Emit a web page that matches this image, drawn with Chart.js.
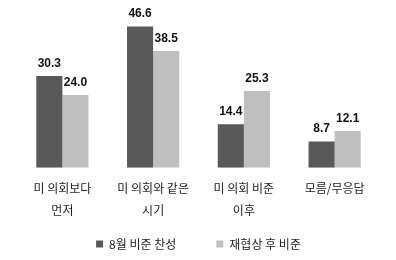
<!DOCTYPE html>
<html>
<head>
<meta charset="utf-8">
<script src="https://cdn.jsdelivr.net/npm/chart.js@4"></script>
<style>
  html, body { margin: 0; padding: 0; background: #fff; }
  #wrap { width: 396px; height: 260px; }
</style>
</head>
<body>
<div id="wrap"><canvas id="chart" width="396" height="260"></canvas></div>
<script>
const categories = [
    ['미 의회보다', '먼저'],
    ['미 의회와 같은', '시기'],
    ['미 의회 비준', '이후'],
    ['모름/무응답']
];
const seriesNames = ['8월 비준 찬성', '재협상 후 비준'];
const augustValues = [30.3, 46.6, 14.4, 8.7];
const afterValues = [24.0, 38.5, 25.3, 12.1];
const colors = ['#595959', '#bfbfbf'];

// draws the value above each bar
const valueLabels = {
    id: 'valueLabels',
    afterDatasetsDraw(chart) {
        const ctx = chart.ctx;
        ctx.save();
        ctx.font = 'bold 12px "Liberation Sans", Arial, sans-serif';
        ctx.fillStyle = '#111';
        ctx.textAlign = 'center';
        ctx.textBaseline = 'alphabetic';
        chart.data.datasets.forEach((ds, i) => {
            chart.getDatasetMeta(i).data.forEach((bar, j) => {
                ctx.fillText(ds.data[j].toFixed(1), bar.x, bar.y - 9);
            });
        });
        ctx.restore();
    }
};

new Chart(document.getElementById('chart').getContext('2d'), {
    type: 'bar',
    data: {
        labels: categories,
        datasets: [
            { label: seriesNames[0], data: augustValues, backgroundColor: colors[0] },
            { label: seriesNames[1], data: afterValues, backgroundColor: colors[1] }
        ]
    },
    options: {
        responsive: false,
        animation: false,
        layout: { padding: { left: 17, right: 16, top: 1, bottom: 4 } },
        datasets: {
            bar: { barPercentage: 1, categoryPercentage: 0.575 }
        },
        scales: {
            x: {
                grid: { display: false },
                border: { display: false },
                // let the plot reach closer to the legend, labels may overflow the axis box
                afterFit: scale => {
                    scale.height -= 25;
                    scale._computeLabelArea = () => undefined;
                },
                ticks: {
                    color: '#222',
                    padding: 2,
                    maxRotation: 0,
                    autoSkip: false,
                    font: { family: '"Noto Sans CJK KR", sans-serif', size: 12, lineHeight: 1.8 }
                }
            },
            y: {
                display: false,
                min: 0,
                max: 55
            }
        },
        plugins: {
            legend: {
                position: 'bottom',
                maxHeight: 58,
                labels: {
                    boxWidth: 7,
                    boxHeight: 7,
                    padding: 40,
                    color: '#222',
                    font: { family: '"Noto Sans CJK KR", sans-serif', size: 12 }
                }
            },
            tooltip: { enabled: false }
        }
    },
    plugins: [valueLabels]
});
</script>
</body>
</html>
